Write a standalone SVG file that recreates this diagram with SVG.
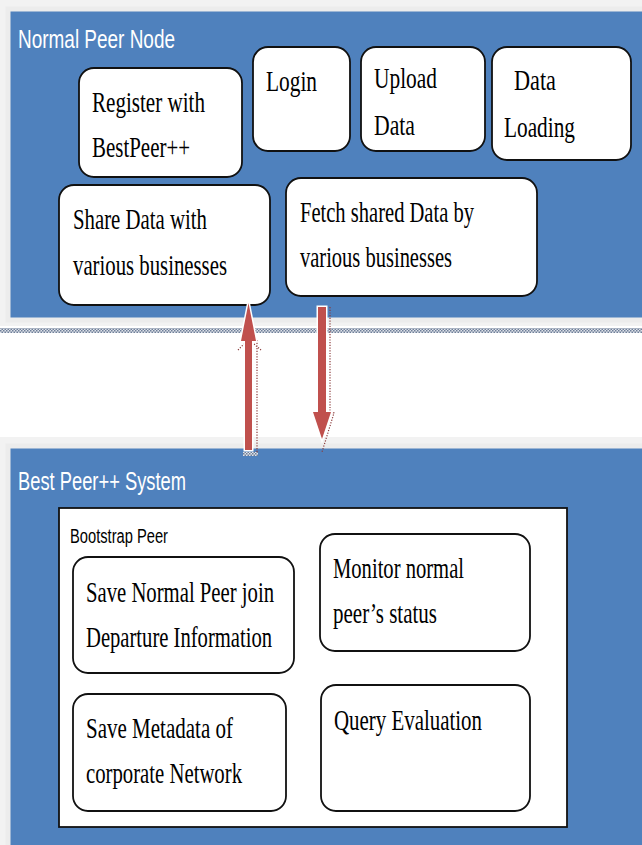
<svg xmlns="http://www.w3.org/2000/svg" width="642" height="845" viewBox="0 0 642 845">
<defs>
<pattern id="hatch" width="3" height="3" patternUnits="userSpaceOnUse">
<rect width="3" height="3" fill="#dfe3ea"/>
<rect x="0" y="0" width="1.5" height="1.5" fill="#6f7f99"/>
<rect x="1.5" y="1.5" width="1.5" height="1.5" fill="#6f7f99"/>
</pattern>
</defs>
<style>
.panel{fill:#4f81bd;stroke:#ececec;stroke-width:5}
.box{fill:#ffffff;stroke:#111;stroke-width:1.8}
.t{font-family:"Liberation Serif","Times New Roman",serif;font-size:30px;fill:#000}
.ht{font-family:"Liberation Sans",Arial,sans-serif;font-size:26px;fill:#fff}
.st{font-family:"Liberation Sans",Arial,sans-serif;font-size:20px;fill:#000}
.arrow{fill:#c0504d;stroke:#fff;stroke-width:3;paint-order:stroke}
.dots{fill:none;stroke:#8a3b3b;stroke-width:1.2;stroke-dasharray:1.2 1.5}
</style>
<rect width="642" height="845" fill="#ffffff"/>
<rect x="0" y="0" width="642" height="326" fill="#f2f2f2"/>
<rect x="0" y="437" width="642" height="408" fill="#f2f2f2"/>
<rect x="0" y="328" width="642" height="5" fill="url(#hatch)"/>

<g id="normal-peer-node">
<rect class="panel" x="8" y="9" width="640" height="311"/>
<text class="ht" x="18" y="48" textLength="157" lengthAdjust="spacingAndGlyphs">Normal Peer Node</text>
</g>
<g id="register">
<rect class="box" x="79" y="68" width="163" height="109" rx="15"/>
<text class="t" x="92" y="112" textLength="113" lengthAdjust="spacingAndGlyphs">Register with</text>
<text class="t" x="92" y="157" textLength="98" lengthAdjust="spacingAndGlyphs">BestPeer++</text>
</g>
<g id="login">
<rect class="box" x="253" y="47" width="97" height="104" rx="15"/>
<text class="t" x="266" y="91" textLength="51" lengthAdjust="spacingAndGlyphs">Login</text>
</g>
<g id="upload">
<rect class="box" x="361" y="47" width="124" height="104" rx="15"/>
<text class="t" x="374" y="88" textLength="63" lengthAdjust="spacingAndGlyphs">Upload</text>
<text class="t" x="374" y="135" textLength="41" lengthAdjust="spacingAndGlyphs">Data</text>
</g>
<g id="data-loading">
<rect class="box" x="492" y="47" width="139" height="113" rx="15"/>
<text class="t" x="514" y="90" textLength="42" lengthAdjust="spacingAndGlyphs">Data</text>
<text class="t" x="504" y="137" textLength="71" lengthAdjust="spacingAndGlyphs">Loading</text>
</g>
<g id="share">
<rect class="box" x="59" y="185" width="211" height="120" rx="15"/>
<text class="t" x="73" y="229" textLength="134" lengthAdjust="spacingAndGlyphs">Share Data with</text>
<text class="t" x="73" y="275" textLength="154" lengthAdjust="spacingAndGlyphs">various businesses</text>
</g>
<g id="fetch">
<rect class="box" x="286" y="178" width="251" height="118" rx="15"/>
<text class="t" x="300" y="222" textLength="174" lengthAdjust="spacingAndGlyphs">Fetch shared Data by</text>
<text class="t" x="300" y="267" textLength="152" lengthAdjust="spacingAndGlyphs">various businesses</text>
</g>

<g id="bestpeer-system">
<rect class="panel" x="8" y="446" width="640" height="405"/>
<text class="ht" x="18" y="490" textLength="168" lengthAdjust="spacingAndGlyphs">Best Peer++ System</text>
</g>
<g id="bootstrap-peer">
<rect x="59" y="508" width="508" height="319" fill="#fff" stroke="#111" stroke-width="1.8"/>
<text class="st" x="70" y="543" textLength="98" lengthAdjust="spacingAndGlyphs">Bootstrap Peer</text>
</g>
<g id="save-normal">
<rect class="box" x="73" y="557" width="221" height="116" rx="15"/>
<text class="t" x="86" y="602" textLength="188" lengthAdjust="spacingAndGlyphs">Save Normal Peer join</text>
<text class="t" x="86" y="647" textLength="186" lengthAdjust="spacingAndGlyphs">Departure Information</text>
</g>
<g id="monitor">
<rect class="box" x="320" y="534" width="210" height="117" rx="15"/>
<text class="t" x="333" y="578" textLength="131" lengthAdjust="spacingAndGlyphs">Monitor normal</text>
<text class="t" x="333" y="623" textLength="104" lengthAdjust="spacingAndGlyphs">peer’s status</text>
</g>
<g id="save-metadata">
<rect class="box" x="73" y="694" width="213" height="117" rx="15"/>
<text class="t" x="86" y="738" textLength="147" lengthAdjust="spacingAndGlyphs">Save Metadata of</text>
<text class="t" x="86" y="783" textLength="156" lengthAdjust="spacingAndGlyphs">corporate Network</text>
</g>
<g id="query">
<rect class="box" x="321" y="685" width="209" height="126" rx="15"/>
<text class="t" x="334" y="730" textLength="148" lengthAdjust="spacingAndGlyphs">Query Evaluation</text>
</g>

<g id="connectors">
<path class="dots" d="M257 340 V453 M238 350 L244 344 M254 344 L261 350"/>
<rect x="243" y="452" width="15" height="4" fill="url(#hatch)"/>
<path class="arrow" d="M248.5 303 L256 341 L252 341 L252 450 L245 450 L245 341 L241 341 Z"/>
<path class="dots" d="M330 307 V412 L334 413 L322 452"/>
<path class="arrow" d="M318 307 L326 307 L326 412 L331 412 L322 439 L313 412 L318 412 Z"/>
</g>
</svg>
